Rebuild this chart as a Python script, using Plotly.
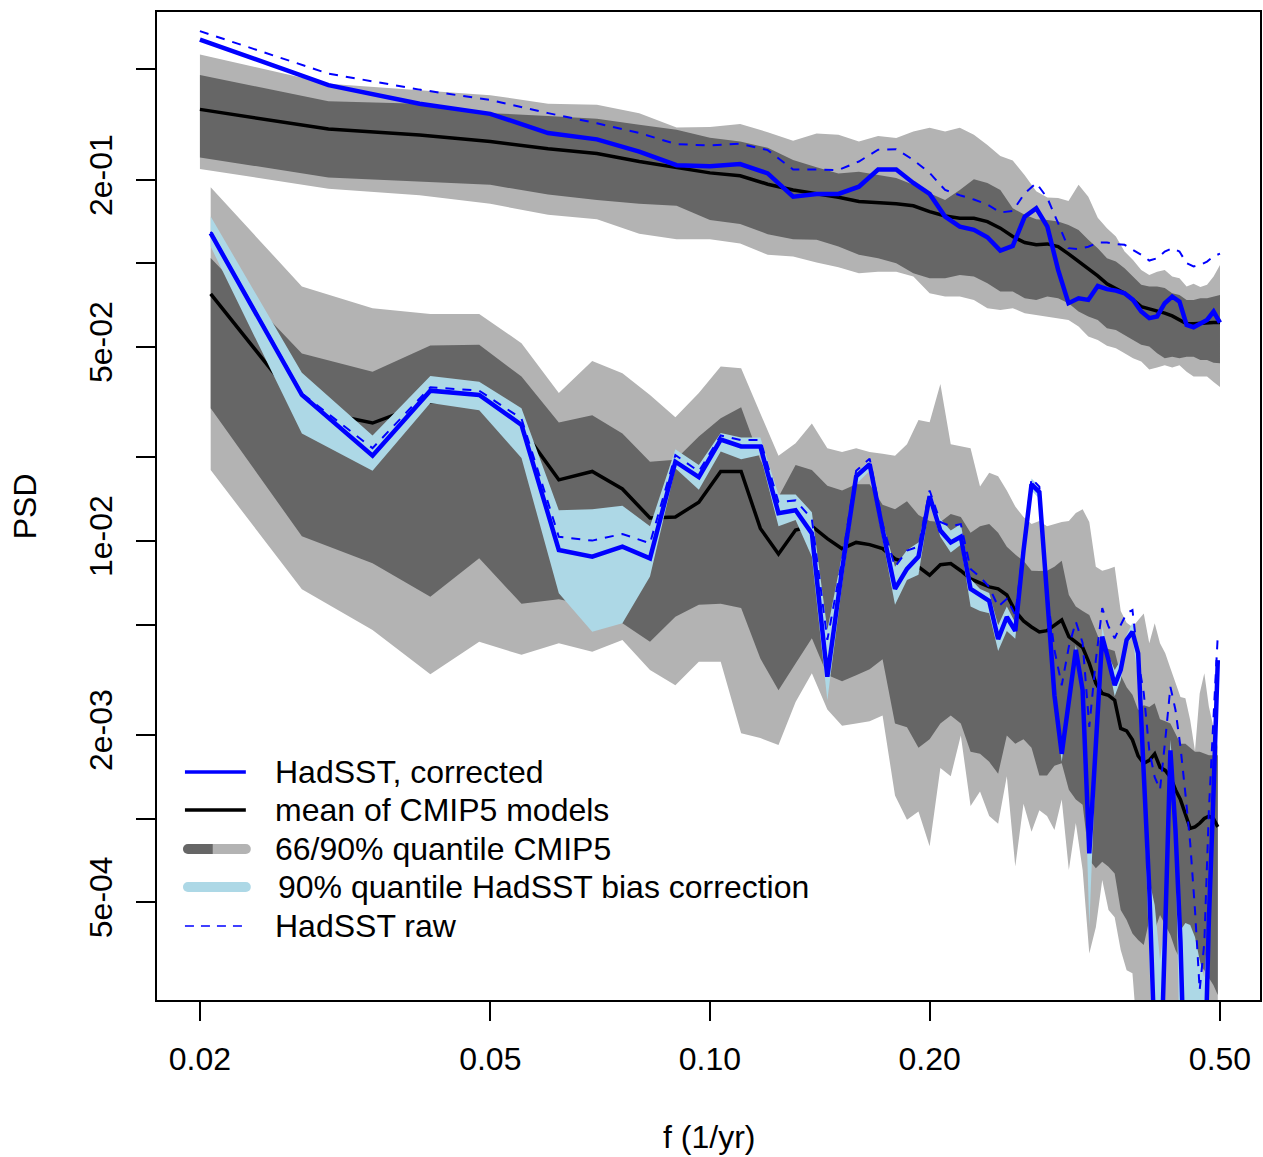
import plotly.graph_objects as go

# ---------------- data ----------------
# upper group: frequencies 0.02 ... 0.50 (1/yr)
upper_f = [0.02, 0.03, 0.04, 0.05, 0.06, 0.07, 0.08, 0.09, 0.10, 0.11,
           0.12, 0.13, 0.14, 0.15, 0.16, 0.17, 0.18, 0.19, 0.20, 0.21,
           0.22, 0.23, 0.24, 0.25, 0.26, 0.27, 0.28, 0.29, 0.30, 0.31,
           0.32, 0.33, 0.34, 0.35, 0.36, 0.37, 0.38, 0.39, 0.40, 0.41,
           0.42, 0.43, 0.44, 0.45, 0.46, 0.47, 0.48, 0.49, 0.50]

upper_corrected = [0.641, 0.439, 0.376, 0.346, 0.295, 0.280, 0.253, 0.226, 0.224, 0.228,
                   0.211, 0.174, 0.178, 0.178, 0.189, 0.218, 0.218, 0.195, 0.178, 0.1475,
                   0.1357, 0.1321, 0.1243, 0.1113, 0.1156, 0.1475, 0.158, 0.1357, 0.0948, 0.0719,
                   0.0749, 0.0739, 0.0829, 0.0808, 0.0798, 0.0781, 0.0739, 0.0671, 0.0635, 0.0644,
                   0.0719, 0.0760, 0.0729, 0.0600, 0.0589, 0.0605, 0.0626, 0.0671, 0.0612]

upper_raw = [0.687, 0.483, 0.423, 0.388, 0.348, 0.320, 0.295, 0.269, 0.266, 0.270,
             0.256, 0.218, 0.218, 0.217, 0.233, 0.257, 0.258, 0.236, 0.212, 0.184,
             0.176, 0.170, 0.163, 0.1526, 0.1546, 0.179, 0.195, 0.172, 0.1396, 0.1135,
             0.1126, 0.1149, 0.1189, 0.1189, 0.1174, 0.1167, 0.1119, 0.1074, 0.1024, 0.1044,
             0.1104, 0.1135, 0.1104, 0.1002, 0.0975, 0.0989, 0.1016, 0.1060, 0.1085]

upper_mean = [0.359, 0.305, 0.290, 0.275, 0.259, 0.249, 0.233, 0.221, 0.212, 0.207,
              0.193, 0.184, 0.179, 0.1733, 0.1671, 0.1656, 0.1640, 0.1613, 0.1537, 0.1483,
              0.1455, 0.1455, 0.1415, 0.1340, 0.1250, 0.1189, 0.1167, 0.1176, 0.1150, 0.1083,
              0.1016, 0.0961, 0.0902, 0.0844, 0.0814, 0.0781, 0.0739, 0.0699, 0.0686, 0.0676,
              0.0662, 0.0647, 0.0626, 0.0606, 0.0606, 0.0609, 0.0612, 0.0612, 0.0612]

upper_q90_hi = [0.566, 0.444, 0.421, 0.404, 0.376, 0.373, 0.348, 0.309, 0.310, 0.318,
                0.297, 0.277, 0.294, 0.291, 0.275, 0.288, 0.283, 0.299, 0.308, 0.299,
                0.308, 0.291, 0.267, 0.244, 0.235, 0.208, 0.182, 0.173, 0.172, 0.168,
                0.192, 0.174, 0.146, 0.134, 0.125, 0.1104, 0.1030, 0.0948, 0.0909, 0.0934,
                0.0948, 0.0897, 0.0885, 0.0826, 0.0845, 0.0822, 0.0838, 0.0897, 0.0987]

upper_q66_hi = [0.478, 0.384, 0.376, 0.348, 0.340, 0.332, 0.316, 0.303, 0.284, 0.275,
                0.261, 0.236, 0.222, 0.211, 0.214, 0.208, 0.203, 0.192, 0.179, 0.1694,
                0.184, 0.201, 0.195, 0.184, 0.1580, 0.1497, 0.1444, 0.1435, 0.1415, 0.1376,
                0.1321, 0.1216, 0.1135, 0.1044, 0.1016, 0.0961, 0.0897, 0.0838, 0.0826, 0.0826,
                0.0815, 0.0781, 0.0770, 0.0739, 0.0739, 0.0749, 0.0749, 0.0760, 0.0770]

upper_q66_lo = [0.241, 0.204, 0.197, 0.192, 0.177, 0.1694, 0.1640, 0.1613, 0.1435, 0.1388,
                0.1275, 0.1222, 0.1216, 0.1150, 0.1074, 0.1044, 0.1002, 0.0922, 0.0885, 0.0885,
                0.0909, 0.0897, 0.0849, 0.0792, 0.0792, 0.0749, 0.0739, 0.0760, 0.0749, 0.0719,
                0.0671, 0.0644, 0.0626, 0.0584, 0.0576, 0.0553, 0.0530, 0.0509, 0.0502, 0.0475,
                0.0455, 0.0461, 0.0455, 0.0461, 0.0461, 0.0449, 0.0449, 0.0439, 0.0437]

upper_q90_lo = [0.219, 0.186, 0.176, 0.1640, 0.1497, 0.1444, 0.1279, 0.1222, 0.1222, 0.1180,
                0.1074, 0.1060, 0.1007, 0.0968, 0.0922, 0.0934, 0.0934, 0.0897, 0.0781, 0.0760,
                0.0760, 0.0739, 0.0690, 0.0680, 0.0690, 0.0662, 0.0652, 0.0644, 0.0635, 0.0626,
                0.0593, 0.0545, 0.0530, 0.0505, 0.0495, 0.0475, 0.0455, 0.0443, 0.0415, 0.0422,
                0.0430, 0.0422, 0.0430, 0.0407, 0.0391, 0.0391, 0.0391, 0.0374, 0.0359]

# lower group: frequencies k/145, k = 3 ... 72 (1/yr)
lower_f = [0.02069, 0.02759, 0.03448, 0.04138, 0.04828, 0.05517, 0.06207, 0.06897, 0.07586, 0.08276,
           0.08966, 0.09655, 0.10345, 0.11034, 0.11724, 0.12414, 0.13103, 0.13793, 0.14483, 0.15172,
           0.15862, 0.16552, 0.17241, 0.17931, 0.18621, 0.19310, 0.20000, 0.20690, 0.21379, 0.22069,
           0.22759, 0.23448, 0.24138, 0.24828, 0.25517, 0.26207, 0.26897, 0.27586, 0.28276, 0.28966,
           0.29655, 0.30345, 0.31034, 0.31724, 0.32414, 0.33103, 0.33793, 0.34483, 0.35172, 0.35862,
           0.36552, 0.37241, 0.37931, 0.38621, 0.39310, 0.40000, 0.40690, 0.41379, 0.42069, 0.42759,
           0.43448, 0.44138, 0.44828, 0.45517, 0.46207, 0.46897, 0.47586, 0.48276, 0.48966, 0.49655]

lower_corrected = [0.1285, 0.0336, 0.0203, 0.0348, 0.0336, 0.0262, 0.00928, 0.00878, 0.00954, 0.00866,
                   0.0193, 0.0170, 0.0232, 0.0219, 0.0219, 0.0126, 0.0129, 0.01065, 0.00324, 0.00786,
                   0.0171, 0.0189, 0.0110, 0.00672, 0.00793, 0.00878, 0.0145, 0.0109, 0.00988, 0.01036,
                   0.00672, 0.00639, 0.00608, 0.00443, 0.00532, 0.00474, 0.00923, 0.0160, 0.0150, 0.00639,
                   0.00278, 0.00171, 0.00260, 0.00405, 0.00290, 0.000749, 0.00184, 0.00452, 0.00372, 0.00302,
                   0.00343, 0.00440, 0.00471, 0.00394, 0.00145, 0.000557, 0.00015, 0.0001, 0.000408, 0.00176,
                   0.000907, 0.000361, 0.00009, 0.00007, 0.00007, 0.00008, 0.0001, 0.00043, 0.0012, 0.00372]

lower_raw = [0.130, 0.0340, 0.0216, 0.0358, 0.0348, 0.0276, 0.01036, 0.01003, 0.01060, 0.00981,
             0.0204, 0.0178, 0.0240, 0.0231, 0.0231, 0.0138, 0.0140, 0.0120, 0.00440, 0.00854,
             0.0179, 0.0198, 0.0115, 0.00807, 0.00923, 0.00954, 0.0152, 0.0117, 0.0113, 0.0115,
             0.00793, 0.00742, 0.00683, 0.00580, 0.00619, 0.00541, 0.00954, 0.0168, 0.0157, 0.00650,
             0.00405, 0.00302, 0.00416, 0.00512, 0.00429, 0.00214, 0.00372, 0.00573, 0.00492, 0.00446,
             0.00498, 0.00549, 0.00564, 0.00372, 0.00283, 0.00176, 0.00141, 0.00127, 0.00192, 0.00298,
             0.00246, 0.00181, 0.00123, 0.000813, 0.000468, 0.000241, 0.000356, 0.00107, 0.00226, 0.00458]

lower_bias_hi = [0.1475, 0.0404, 0.0240, 0.0393, 0.0375, 0.0301, 0.0129, 0.0130, 0.0134, 0.0113,
                 0.0214, 0.0188, 0.0245, 0.0236, 0.0236, 0.0147, 0.0147, 0.0127, 0.00478, 0.00890,
                 0.0176, 0.0195, 0.0117, 0.00807, 0.00928, 0.00988, 0.0152, 0.0120, 0.0109, 0.0115,
                 0.00730, 0.00672, 0.00650, 0.00497, 0.00580, 0.00507, 0.00970, 0.0168, 0.0157, 0.00666,
                 0.00290, 0.00179, 0.00272, 0.00422, 0.00302, 0.000783, 0.00192, 0.00492, 0.00388, 0.00343,
                 0.00372, 0.00458, 0.00507, 0.00412, 0.00156, 0.000600, 0.000488, 0.000309, 0.000431, 0.00192,
                 0.00112, 0.000396, 0.000420, 0.000413, 0.000374, 0.000309, 0.000268, 0.000450, 0.00132, 0.00388]

lower_bias_lo = [0.1150, 0.0244, 0.0179, 0.0314, 0.0296, 0.0199, 0.00648, 0.00471, 0.00505, 0.00744,
                 0.0183, 0.0153, 0.0210, 0.0197, 0.0204, 0.0113, 0.0119, 0.00878, 0.00267, 0.00694,
                 0.0160, 0.0179, 0.01008, 0.00589, 0.00723, 0.00756, 0.0135, 0.01036, 0.00908, 0.00970,
                 0.00580, 0.00559, 0.00549, 0.00401, 0.00474, 0.00444, 0.00883, 0.0152, 0.0142, 0.00613,
                 0.00256, 0.00160, 0.00246, 0.00388, 0.00278, 0.000408, 0.00162, 0.00440, 0.00357, 0.00276,
                 0.00315, 0.00422, 0.00454, 0.00315, 0.00127, 0.000336, 0.00008, 0.00006, 0.000262, 0.00169,
                 0.000837, 0.0001, 0.00006, 0.00006, 0.00006, 0.00006, 0.00006, 0.000241, 0.00107, 0.00343]

lower_mean = [0.0777, 0.0301, 0.0266, 0.0318, 0.0315, 0.0255, 0.0166, 0.0178, 0.0154, 0.0121,
              0.0122, 0.0138, 0.0178, 0.0178, 0.0111, 0.00898, 0.01095, 0.0113, 0.0102, 0.00938,
              0.00988, 0.00970, 0.00938, 0.00862, 0.00835, 0.00807, 0.00753, 0.00821, 0.00829, 0.00781,
              0.00730, 0.00706, 0.00683, 0.00672, 0.00639, 0.00559, 0.00515, 0.00490, 0.00470, 0.00475,
              0.00498, 0.00519, 0.00452, 0.00434, 0.00414, 0.00362, 0.00307, 0.00282, 0.00278, 0.00267,
              0.00211, 0.00207, 0.00192, 0.00168, 0.00158, 0.00162, 0.00171, 0.00153, 0.00149, 0.00141,
              0.00127, 0.00117, 0.00103, 0.000921, 0.000933, 0.000961, 0.00100, 0.00102, 0.00100, 0.000933]

lower_q66_hi = [0.1047, 0.0474, 0.0407, 0.0506, 0.0509, 0.0391, 0.0267, 0.0284, 0.0244, 0.0193,
                0.0196, 0.0238, 0.0277, 0.0303, 0.0196, 0.0144, 0.0188, 0.0180, 0.0158, 0.0152,
                0.0160, 0.0160, 0.0135, 0.0130, 0.0139, 0.0124, 0.0118, 0.0117, 0.0125, 0.0122,
                0.0107, 0.0113, 0.0115, 0.0107, 0.00954, 0.00893, 0.00848, 0.00781, 0.00780, 0.00781,
                0.00807, 0.00848, 0.00639, 0.00580, 0.00559, 0.00541, 0.00474, 0.00415, 0.00408, 0.00401,
                0.00328, 0.00297, 0.00279, 0.00246, 0.00256, 0.00252, 0.00260, 0.00228, 0.00224, 0.00220,
                0.00202, 0.00186, 0.00186, 0.00180, 0.00174, 0.00174, 0.00171, 0.00169, 0.00169, 0.00169]

lower_q66_lo = [0.0301, 0.0104, 0.00831, 0.00630, 0.00866, 0.00594, 0.00617, 0.00582, 0.00505, 0.00433,
                0.00533, 0.00589, 0.00594, 0.00573, 0.00377, 0.00290, 0.00362, 0.00446, 0.00329, 0.00312,
                0.00328, 0.00345, 0.00375, 0.00220, 0.00213, 0.00180, 0.00193, 0.00220, 0.00235, 0.00220,
                0.00174, 0.00171, 0.00160, 0.00145, 0.00199, 0.00186, 0.00193, 0.00180, 0.00143, 0.00143,
                0.00155, 0.00158, 0.00127, 0.00117, 0.00112, 0.000709, 0.000662, 0.000698, 0.000670, 0.000634,
                0.000468, 0.000431, 0.000385, 0.000365, 0.000350, 0.000431, 0.000396, 0.000449, 0.000413, 0.000380,
                0.000336, 0.000309, 0.000296, 0.000284, 0.000273, 0.000296, 0.000284, 0.000266, 0.000251, 0.000231]

lower_q90_hi = [0.1881, 0.0826, 0.0690, 0.0658, 0.0658, 0.0516, 0.0341, 0.0445, 0.0402, 0.0336,
                0.0279, 0.0341, 0.0425, 0.0419, 0.0288, 0.0203, 0.0225, 0.0265, 0.0216, 0.0209,
                0.0216, 0.0209, 0.0206, 0.0203, 0.0223, 0.0273, 0.0268, 0.0368, 0.0223, 0.0220,
                0.0216, 0.0157, 0.0176, 0.0171, 0.0152, 0.0133, 0.0122, 0.0115, 0.0118, 0.0113,
                0.0115, 0.0117, 0.0118, 0.0126, 0.0130, 0.0117, 0.00807, 0.00781, 0.00793, 0.00807,
                0.00559, 0.00507, 0.00490, 0.00519, 0.00548, 0.00428, 0.00505, 0.00428, 0.00394, 0.00348,
                0.00307, 0.00274, 0.00271, 0.00226, 0.00175, 0.00282, 0.00334, 0.00253, 0.00214, 0.00181]

lower_q90_lo = [0.0180, 0.00670, 0.00478, 0.00331, 0.00433, 0.00389, 0.00428, 0.00399, 0.00440, 0.00343,
                0.00302, 0.00367, 0.00367, 0.00203, 0.00195, 0.00184, 0.00263, 0.00334, 0.00247, 0.00216,
                0.00220, 0.00224, 0.00235, 0.00121, 0.000989, 0.00106, 0.000795, 0.00152, 0.00142, 0.00199,
                0.00111, 0.00125, 0.00102, 0.000958, 0.00142, 0.000671, 0.00113, 0.000895, 0.00107, 0.00102,
                0.000909, 0.00117, 0.000652, 0.000964, 0.000652, 0.000326, 0.000406, 0.000600, 0.000468, 0.000441,
                0.000336, 0.000284, 0.000277, 0.00015, 0.00015, 0.00015, 0.00015, 0.00015, 0.00015, 0.00015,
                0.00015, 0.00015, 0.00015, 0.00015, 0.00015, 0.00015, 0.00015, 0.00015, 0.00015, 0.00015]

x_tick_vals = [0.02, 0.05, 0.1, 0.2, 0.5]
x_tick_text = ["0.02", "0.05", "0.10", "0.20", "0.50"]
y_tick_vals = [0.5, 0.2, 0.1, 0.05, 0.02, 0.01, 0.005, 0.002, 0.001, 0.0005]
y_tick_text = ["", "2e-01", "", "5e-02", "", "1e-02", "", "2e-03", "", "5e-04"]

legend_labels = ["HadSST, corrected", "mean of CMIP5 models", "66/90% quantile CMIP5",
                 "90% quantile HadSST bias correction", "HadSST raw"]

# ---------------- styling ----------------
FONT = "Liberation Sans, Arial, Helvetica, sans-serif"
LIGHT_GREY = "#b3b3b3"
DARK_GREY = "#666666"
LIGHT_BLUE = "#add8e6"
BLUE = "#0000ff"

fig = go.Figure()


def band(x, lo, hi, color):
    fig.add_trace(go.Scatter(
        x=list(x) + list(x)[::-1], y=list(hi) + list(lo)[::-1],
        fill="toself", fillcolor=color, mode="lines",
        line=dict(width=0, color=color), hoverinfo="skip", showlegend=False))


def line(x, y, color, width, dash="solid"):
    fig.add_trace(go.Scatter(
        x=x, y=y, mode="lines", line=dict(color=color, width=width, dash=dash),
        hoverinfo="skip", showlegend=False))


band(upper_f, upper_q90_lo, upper_q90_hi, LIGHT_GREY)
band(upper_f, upper_q66_lo, upper_q66_hi, DARK_GREY)
band(lower_f, lower_q90_lo, lower_q90_hi, LIGHT_GREY)
band(lower_f, lower_q66_lo, lower_q66_hi, DARK_GREY)
line(upper_f, upper_mean, "black", 3.5)
line(lower_f, lower_mean, "black", 3.5)
band(lower_f, lower_bias_lo, lower_bias_hi, LIGHT_BLUE)
line(upper_f, upper_corrected, BLUE, 4.5)
line(lower_f, lower_corrected, BLUE, 4.5)
line(upper_f, upper_raw, BLUE, 2, "9px,8px")
line(lower_f, lower_raw, BLUE, 2, "9px,8px")

# ---------------- layout ----------------
L, R, T, B = 157, 1, 12, 157
W, H = 1263, 1157
PW, PH = W - L - R, H - T - B


def px_x(p):
    return (p - L) / PW


def px_y(p):
    return (H - B - p) / PH


fig.update_layout(
    width=W, height=H,
    margin=dict(l=L, r=R, t=T, b=B, pad=0),
    paper_bgcolor="white", plot_bgcolor="white",
    showlegend=False,
    font=dict(family=FONT, size=32, color="black"),
)
fig.update_xaxes(
    type="log", range=[-1.7578, -0.2462],
    tickmode="array", tickvals=x_tick_vals, ticktext=x_tick_text,
    ticks="outside", ticklen=19, tickwidth=1.5, tickcolor="black",
    ticklabelstandoff=11,
    showline=True, linecolor="black", linewidth=1.5, mirror=True,
    showgrid=False, zeroline=False,
)
fig.update_yaxes(
    type="log", range=[-3.654, -0.094],
    tickmode="array", tickvals=y_tick_vals, ticktext=y_tick_text, tickangle=-90,
    ticks="outside", ticklen=19, tickwidth=1.5, tickcolor="black",
    ticklabelstandoff=11,
    showline=True, linecolor="black", linewidth=1.5, mirror=True,
    showgrid=False, zeroline=False,
)

annotations = [
    dict(text="f (1/yr)", x=px_x(709.5), y=px_y(1137), xref="paper", yref="paper",
         showarrow=False, xanchor="center", yanchor="middle", font=dict(size=32)),
    dict(text="PSD", x=px_x(25), y=px_y(506), xref="paper", yref="paper",
         showarrow=False, xanchor="center", yanchor="middle", textangle=-90, font=dict(size=32)),
]

rows = [772, 810, 849, 887, 926]
text_x = [273, 273, 273, 276, 273]
for lab, ry, tx in zip(legend_labels, rows, text_x):
    annotations.append(dict(text=lab, x=px_x(tx), y=px_y(ry), xref="paper", yref="paper",
                            showarrow=False, xanchor="left", yanchor="middle", font=dict(size=32)))

shapes = []
# legend symbols
shapes.append(dict(type="line", xref="paper", yref="paper", x0=px_x(185), x1=px_x(246),
                   y0=px_y(rows[0]), y1=px_y(rows[0]), line=dict(color=BLUE, width=3.5)))
shapes.append(dict(type="line", xref="paper", yref="paper", x0=px_x(185), x1=px_x(246),
                   y0=px_y(rows[1]), y1=px_y(rows[1]), line=dict(color="black", width=3.5)))


def bar(x0, x1, y, color, cap_left, cap_right):
    shapes.append(dict(type="line", xref="paper", yref="paper", x0=px_x(x0), x1=px_x(x1),
                       y0=px_y(y), y1=px_y(y), line=dict(color=color, width=10)))
    for cx, use in ((x0, cap_left), (x1, cap_right)):
        if use:
            shapes.append(dict(type="circle", xref="paper", yref="paper",
                               xsizemode="pixel", ysizemode="pixel",
                               xanchor=px_x(cx), yanchor=px_y(y),
                               x0=-5, x1=5, y0=-5, y1=5,
                               fillcolor=color, line=dict(width=0, color=color)))


bar(188, 213, rows[2], DARK_GREY, True, False)
bar(213, 246, rows[2], LIGHT_GREY, False, True)
bar(188, 246, rows[3], LIGHT_BLUE, True, True)
shapes.append(dict(type="line", xref="paper", yref="paper", x0=px_x(185), x1=px_x(246),
                   y0=px_y(rows[4]), y1=px_y(rows[4]),
                   line=dict(color=BLUE, width=1.5, dash="9px,7px")))

fig.update_layout(annotations=annotations, shapes=shapes)

fig.write_html("out.html",
               config={"displayModeBar": False},
               post_script="document.body.style.margin='0';document.body.style.overflow='hidden';")
